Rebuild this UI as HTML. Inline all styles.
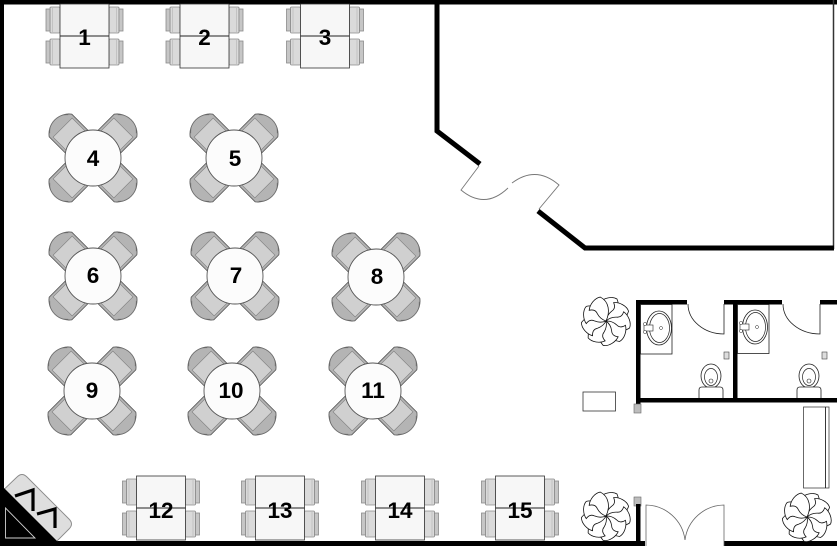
<!DOCTYPE html>
<html><head><meta charset="utf-8"><style>
html,body{margin:0;padding:0;background:#fff;}
svg{display:block;}
text{font-family:"Liberation Sans",Arial,sans-serif;font-weight:bold;font-size:22.5px;fill:#000;text-anchor:middle;}
</style></head><body>
<svg width="837" height="546" viewBox="0 0 837 546" xmlns="http://www.w3.org/2000/svg">
<defs>
  <g id="cc">
    <path d="M16,-16 L46,-16 A20,20 0 0 1 46,16 L16,16 Z" fill="#b4b4b4" stroke="#555" stroke-width="0.8"/>
    <path d="M18,-13.5 L43,-13.5 L43,13.5 L18,13.5 Z" fill="#d0d0d0" stroke="#808080" stroke-width="0.6"/>
    <path d="M48,-13 A17,17 0 0 1 48,13" fill="none" stroke="#7a7a7a" stroke-width="0.6"/>
  </g>
  <g id="rt">
    <use href="#cc" transform="rotate(45)"/>
    <use href="#cc" transform="rotate(135)"/>
    <use href="#cc" transform="rotate(225)"/>
    <use href="#cc" transform="rotate(315)"/>
    <circle cx="0" cy="0" r="28" fill="#fcfcfc" stroke="#555" stroke-width="0.9"/>
  </g>
  <g id="rc">
    <rect x="-10" y="0" width="10" height="26" rx="1" fill="#dadada" stroke="#8a8a8a" stroke-width="0.8"/>
    <rect x="-14" y="2" width="4" height="22" fill="#c6c6c6" stroke="#8a8a8a" stroke-width="0.8"/>
    <line x1="-7.5" y1="1" x2="-7.5" y2="25" stroke="#b2b2b2" stroke-width="0.6"/>
  </g>
  <g id="sq">
    <use href="#rc" transform="translate(-24.5,-29)"/>
    <use href="#rc" transform="translate(-24.5,3)"/>
    <use href="#rc" transform="translate(24.5,-29) scale(-1,1)"/>
    <use href="#rc" transform="translate(24.5,3) scale(-1,1)"/>
    <rect x="-24.5" y="-32" width="49" height="64" fill="#f7f7f7" stroke="#333" stroke-width="0.8"/>
    <line x1="-24.5" y1="0" x2="24.5" y2="0" stroke="#222" stroke-width="0.9"/>
  </g>
  <path id="pt" d="M0,0 C9,-4 15,-13 11,-22 C6,-25 -2,-23 -6,-19 C-2,-17 -1,-14 -2,-11 C-3,-6 -2,-3 0,0 Z" fill="#fff" stroke="#111" stroke-width="0.8"/>
  <g id="plant">
    <use href="#pt" transform="rotate(0)"/>
    <use href="#pt" transform="rotate(40)"/>
    <use href="#pt" transform="rotate(80)"/>
    <use href="#pt" transform="rotate(120)"/>
    <use href="#pt" transform="rotate(160)"/>
    <use href="#pt" transform="rotate(200)"/>
    <use href="#pt" transform="rotate(240)"/>
    <use href="#pt" transform="rotate(280)"/>
    <use href="#pt" transform="rotate(320)"/>
  </g>
  <g id="toilet">
    <ellipse cx="0" cy="0" rx="10" ry="12" fill="#fff" stroke="#222" stroke-width="0.8"/>
    <ellipse cx="0" cy="1" rx="6.5" ry="8.5" fill="#fff" stroke="#222" stroke-width="0.7"/>
    <circle cx="0" cy="5" r="2" fill="none" stroke="#222" stroke-width="0.6"/>
    <path d="M-12,22 L-12,14 Q-12,11 -9,11 L9,11 Q12,11 12,14 L12,22" fill="#fff" stroke="#222" stroke-width="0.8"/>
  </g>
  <g id="sink">
    <ellipse cx="0" cy="0" rx="12.5" ry="17" fill="#fff" stroke="#222" stroke-width="0.8"/>
    <ellipse cx="0.5" cy="0" rx="10" ry="14.5" fill="#fff" stroke="#222" stroke-width="0.7"/>
    <rect x="-15" y="-3" width="9" height="6" fill="#fff" stroke="#222" stroke-width="0.6"/>
    <circle cx="-14" cy="-4" r="1.6" fill="#fff" stroke="#222" stroke-width="0.5"/>
    <circle cx="-14" cy="4" r="1.6" fill="#fff" stroke="#222" stroke-width="0.5"/>
    <circle cx="2" cy="0" r="1.5" fill="none" stroke="#222" stroke-width="0.5"/>
  </g>
</defs>

<!-- outer walls -->
<rect x="0" y="0" width="837" height="4.5" fill="#000"/>
<rect x="0" y="0" width="4" height="495" fill="#000"/>
<rect x="0" y="541" width="645" height="5" fill="#000"/>
<rect x="724" y="541" width="113" height="5" fill="#000"/>
<line x1="833.5" y1="0" x2="833.5" y2="249" stroke="#333" stroke-width="1.5"/>

<!-- inner kitchen wall -->
<polyline points="437,0 437,131 480,164" fill="none" stroke="#000" stroke-width="5"/>
<polyline points="538,211 585,248 834,248" fill="none" stroke="#000" stroke-width="5"/>
<!-- swing door -->
<path d="M479,166 L461,190 Q485,210 508,188" fill="none" stroke="#777" stroke-width="0.9"/>
<path d="M539,209 L559,185 Q536,165 512,183" fill="none" stroke="#777" stroke-width="0.9"/>

<!-- restroom walls -->
<rect x="636" y="300" width="51" height="4.5" fill="#000"/>
<rect x="724" y="300" width="58" height="4.5" fill="#000"/>
<rect x="820" y="300" width="17" height="4.5" fill="#000"/>
<rect x="636" y="300" width="4.5" height="105" fill="#000"/>
<rect x="733" y="300" width="4.5" height="100" fill="#000"/>
<rect x="636" y="398" width="201" height="4.5" fill="#000"/>
<rect x="634" y="404" width="7" height="9" fill="#bdbdbd" stroke="#666" stroke-width="0.6"/>
<rect x="634" y="497" width="7" height="9" fill="#bdbdbd" stroke="#666" stroke-width="0.6"/>
<rect x="636" y="504" width="4.5" height="42" fill="#000"/>

<!-- restroom doors -->
<path d="M688,304 A36,30 0 0 0 724,334 L724,304" fill="none" stroke="#222" stroke-width="0.8"/>
<path d="M783,304 A37,30 0 0 0 820,334 L820,304" fill="none" stroke="#222" stroke-width="0.8"/>

<!-- sinks -->
<rect x="640.5" y="304.5" width="31.5" height="49.5" fill="#fff" stroke="#222" stroke-width="0.8"/>
<use href="#sink" transform="translate(659,328)"/>
<rect x="737.5" y="304.5" width="31.5" height="49" fill="#fff" stroke="#222" stroke-width="0.8"/>
<use href="#sink" transform="translate(755,327)"/>
<!-- paper holders -->
<rect x="724" y="352" width="5" height="7" fill="#ddd" stroke="#444" stroke-width="0.6"/>
<rect x="822" y="352" width="5" height="7" fill="#ddd" stroke="#444" stroke-width="0.6"/>
<!-- toilets -->
<use href="#toilet" transform="translate(711,376)"/>
<use href="#toilet" transform="translate(809,376)"/>

<!-- small rect near restrooms -->
<rect x="583" y="392" width="32.5" height="19" fill="#fff" stroke="#333" stroke-width="0.8"/>

<!-- bench -->
<rect x="803.5" y="407" width="25.5" height="81" fill="#fff" stroke="#444" stroke-width="0.8"/>
<line x1="825.5" y1="407" x2="825.5" y2="488" stroke="#222" stroke-width="0.9"/>

<!-- entrance double door -->
<path d="M646,546 L646,505 A40,40 0 0 1 685,540" fill="none" stroke="#666" stroke-width="0.8"/>
<path d="M724,546 L724,505 A40,40 0 0 0 685,540" fill="none" stroke="#666" stroke-width="0.8"/>

<!-- plants -->
<use href="#plant" transform="translate(606,321)"/>
<use href="#plant" transform="translate(606,516)"/>
<use href="#plant" transform="translate(807,517)"/>

<!-- stairs corner -->
<path d="M-6,499 L17,477 Q22,472 27,477 L69,519 Q74,524 69,529 L50,548 L-6,548 Z" fill="#dedede" stroke="#8a8a8a" stroke-width="0.9"/>
<polygon points="0,484 62,546 0,546" fill="#000"/>
<polygon points="5.5,508 5.5,538 35,538" fill="none" stroke="#d0d0d0" stroke-width="0.9"/>
<polyline points="15,496 33,490 33,511" fill="none" stroke="#000" stroke-width="3.2"/>
<polyline points="37,514 55,509 55,528" fill="none" stroke="#000" stroke-width="3.2"/>

<!-- top tables -->
<use href="#sq" transform="translate(84.5,36)"/>
<use href="#sq" transform="translate(204.5,36)"/>
<use href="#sq" transform="translate(325,36)"/>
<text x="84.5" y="45">1</text>
<text x="204.5" y="45">2</text>
<text x="325" y="45">3</text>

<!-- round tables -->
<use href="#rt" transform="translate(93,158)"/>
<use href="#rt" transform="translate(234,158)"/>
<use href="#rt" transform="translate(93,276)"/>
<use href="#rt" transform="translate(235,276)"/>
<use href="#rt" transform="translate(376,277)"/>
<use href="#rt" transform="translate(92,391)"/>
<use href="#rt" transform="translate(232,391)"/>
<use href="#rt" transform="translate(373,391)"/>
<text x="93" y="166">4</text>
<text x="235" y="166">5</text>
<text x="93" y="283">6</text>
<text x="236" y="283">7</text>
<text x="377" y="284">8</text>
<text x="92" y="398">9</text>
<text x="231" y="398">10</text>
<text x="373" y="398">11</text>

<!-- bottom tables -->
<use href="#sq" transform="translate(161,508)"/>
<use href="#sq" transform="translate(280,508)"/>
<use href="#sq" transform="translate(400,508)"/>
<use href="#sq" transform="translate(520,508)"/>
<text x="161" y="518">12</text>
<text x="280" y="518">13</text>
<text x="400" y="518">14</text>
<text x="520" y="518">15</text>
</svg>
</body></html>
